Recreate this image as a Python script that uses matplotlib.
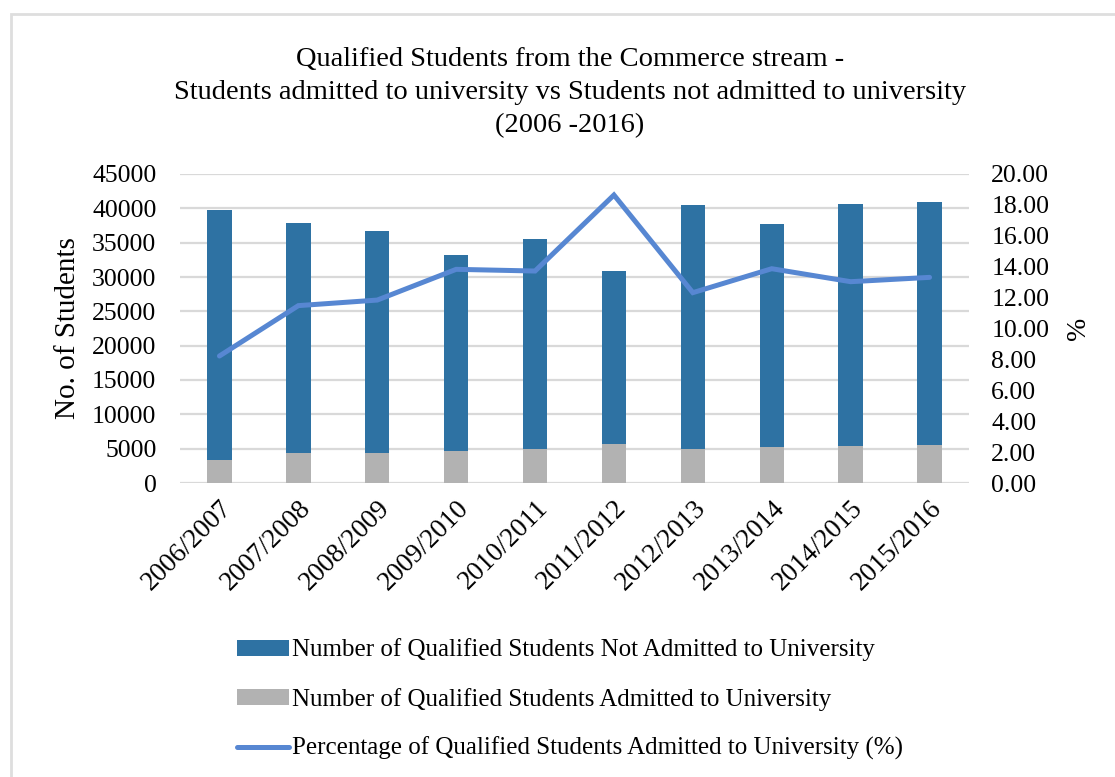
import matplotlib.pyplot as plt
import numpy as np

years = ['2006/2007', '2007/2008', '2008/2009', '2009/2010', '2010/2011',
         '2011/2012', '2012/2013', '2013/2014', '2014/2015', '2015/2016']
not_admitted = [36400, 33490, 32330, 28540, 30580, 25140, 35530, 32430, 35190, 35380]
admitted = [3350, 4420, 4370, 4660, 4950, 5730, 5000, 5290, 5440, 5490]
pct_admitted = [8.22, 11.48, 11.84, 13.83, 13.72, 18.64, 12.32, 13.87, 13.03, 13.31]

plt.rcParams['font.family'] = ['Liberation Serif', 'DejaVu Serif']

blue = '#2e72a3'
grey = '#b2b2b2'
line_blue = '#5787d2'
grid_col = '#d9d9d9'

fig = plt.figure(figsize=(11.15, 7.77), dpi=100)
fig.patches.append(plt.Rectangle((11 / 1115, -0.1), 1.2, 1.1 - 14 / 777,
                                 transform=fig.transFigure, fill=False,
                                 edgecolor='#dedede', lw=2))

ax = fig.add_axes([180 / 1115, 1 - 483 / 777, (969 - 180) / 1115, (483 - 174) / 777])
x = np.arange(len(years))
w = 0.31
b1 = ax.bar(x, admitted, w, color=grey, zorder=2,
            label='Number of Qualified Students Admitted to University')
b2 = ax.bar(x, not_admitted, w, bottom=admitted, color=blue, zorder=2,
            label='Number of Qualified Students Not Admitted to University')
ax.set_xlim(-0.5, len(years) - 0.5)
ax.set_ylim(0, 45000)
ax.set_yticks(np.arange(0, 45001, 5000))
ax.yaxis.grid(True, color=grid_col, lw=1.6)
ax.set_axisbelow(True)
for s in ax.spines.values():
    s.set_visible(False)
ax.tick_params(length=0, labelsize=18.5)
ax.tick_params(axis='y', pad=17)
ax.set_xticks(x)
ax.set_xticklabels(years, rotation=45, ha='right', rotation_mode='anchor')
ax.tick_params(axis='x', pad=9, labelsize=19.5)
ax.set_ylabel('No. of Students', fontsize=21, labelpad=8)

ax2 = ax.twinx()
l1, = ax2.plot(x, pct_admitted, color=line_blue, lw=3.6, solid_capstyle='round',
               solid_joinstyle='miter',
               label='Percentage of Qualified Students Admitted to University (%)')
ax2.set_ylim(0, 20)
ax2.set_yticks(np.arange(0, 20.01, 2))
ax2.set_yticklabels([f'{v:.2f}' for v in np.arange(0, 20.01, 2)])
for s in ax2.spines.values():
    s.set_visible(False)
ax2.tick_params(length=0, labelsize=18.5, pad=16)
ax2.set_ylabel('%', fontsize=20, labelpad=12)

fig.text(0.511, 1 - 93 / 777,
         'Qualified Students from the Commerce stream -\n'
         'Students admitted to university vs Students not admitted to university\n'
         '(2006 -2016)', ha='center', va='center', fontsize=20.5, linespacing=1.42)

fig.legend([b2, b1, l1], [b2.get_label(), b1.get_label(), l1.get_label()],
           loc='upper left', bbox_to_anchor=(214 / 1115, 1 - 616 / 777),
           frameon=False, fontsize=18, labelspacing=1.05, handlelength=2.1,
           handletextpad=0.12, handleheight=0.6)

fig.savefig('out.png', dpi=100)
